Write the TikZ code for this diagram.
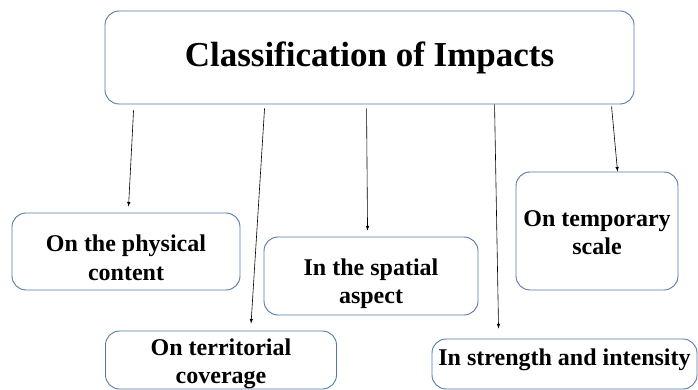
\documentclass[tikz,border=0pt]{standalone}
\usepackage{fontspec}
\setmainfont{Liberation Serif}
\usetikzlibrary{positioning}
\definecolor{boxline}{RGB}{84,121,166}
\newcommand{\boxtext}[2]{\raisebox{#1}[\height][\depth]{\begin{tabular}{@{}c@{}}#2\end{tabular}}}
\begin{document}
\begin{tikzpicture}[x=1pt,y=-1pt,>=latex,thin]
        \tikzstyle{block} = [rectangle, draw=boxline, line width=0.9pt, fill=white, text centered, rounded corners=14pt, align=center, font=\bfseries\fontsize{24}{28.5}\selectfont, inner sep=0pt]
        \tikzstyle{arrow} = [->, line width=0.6pt]
        \useasboundingbox (0,0) rectangle (698,390);

        % Top node
        \node[block, minimum width=529pt, minimum height=93pt, font=\bfseries\fontsize{35}{40}\selectfont] (impacts) at (369.5,57.5) {Classification of Impacts};

        % Classes
        \node[block, minimum width=228pt, minimum height=77pt] (physical) at (126,251.5) {\boxtext{-9pt}{On the physical\\content}};
        \node[block, minimum width=214pt, minimum height=78pt] (spatial) at (371,276) {\boxtext{-8pt}{In the spatial\\aspect}};
        \node[block, minimum width=162pt, minimum height=118pt] (temporary) at (597,231) {\boxtext{-4pt}{On temporary\\scale}};
        \node[block, minimum width=231pt, minimum height=58pt] (territorial) at (221,360) {\boxtext{-4pt}{On territorial\\coverage}};
        \node[block, minimum width=265pt, minimum height=50pt] (strength) at (564.5,364) {\boxtext{4pt}{In strength and intensity}};

        % Arrows from the top node
        \draw[arrow] ([xshift=29pt,yshift=-6pt]impacts.south west) -- ([xshift=117pt,yshift=6pt]physical.north west);
        \draw[arrow] ([xshift=160pt,yshift=-4pt]impacts.south west) -- ([xshift=146pt,yshift=7pt]territorial.north west);
        \draw[arrow] ([xshift=262pt,yshift=-4pt]impacts.south west) -- ([xshift=104pt,yshift=6pt]spatial.north west);
        \draw[arrow] ([xshift=390pt]impacts.south west) -- ([xshift=67pt,yshift=10pt]strength.north west);
        \draw[arrow] ([xshift=507pt,yshift=-2pt]impacts.south west) -- ([xshift=102pt]temporary.north west);
    \end{tikzpicture}
\end{document}
